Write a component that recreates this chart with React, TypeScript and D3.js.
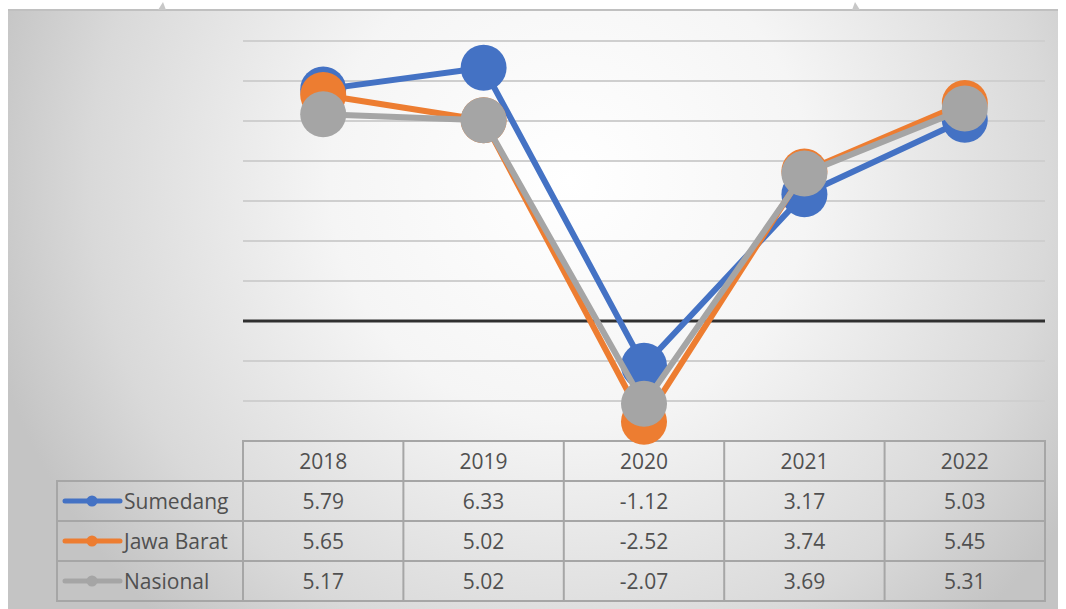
import React from "react";
import * as d3 from "d3";

const years = ["2018", "2019", "2020", "2021", "2022"];
const seriesNames = ["Sumedang", "Jawa Barat", "Nasional"];
const sumedang = [5.79, 6.33, -1.12, 3.17, 5.03];
const jawaBarat = [5.65, 5.02, -2.52, 3.74, 5.45];
const nasional = [5.17, 5.02, -2.07, 3.69, 5.31];
const seriesLabels = [
  ["5.79", "6.33", "-1.12", "3.17", "5.03"],
  ["5.65", "5.02", "-2.52", "3.74", "5.45"],
  ["5.17", "5.02", "-2.07", "3.69", "5.31"],
];
const gridValues = [-2, -1, 1, 2, 3, 4, 5, 6, 7];
const colors = ["#4472C4", "#ED7D31", "#A5A5A5"];

export default function App() {
  const W = 1066;
  const H = 609;
  const plotLeft = 243;
  const plotRight = 1045;
  const labelLeft = 57;
  const x = d3.scaleBand<string>().domain(years).range([plotLeft, plotRight]).padding(0);
  const y = d3.scaleLinear().domain([-3, 7]).range([441, 41]);
  const rowH = 40;
  const tableTop = y(-3);
  const allSeries = [sumedang, jawaBarat, nasional];
  const line = d3
    .line<number>()
    .x((_, i) => (x(years[i]) as number) + x.bandwidth() / 2)
    .y((d) => y(d));
  const font = "'Open Sans', 'Liberation Sans', sans-serif";
  const textColor = "#505050";
  const border = "#a6a6a6";
  const fs = 21;

  return (
    <svg
      width={W}
      height={H}
      style={{ position: "fixed", left: 0, top: 0, display: "block" }}
    >
      <defs>
        <radialGradient id="bg" gradientUnits="userSpaceOnUse" cx={570} cy={180} r={600} fx={570} fy={180}>
          <stop offset="0%" stopColor="#ffffff" />
          <stop offset="40%" stopColor="#f5f5f5" />
          <stop offset="80%" stopColor="#d9d9d9" />
          <stop offset="100%" stopColor="#c4c4c4" />
        </radialGradient>
      </defs>
      <rect x={0} y={0} width={W} height={H} fill="#ffffff" />
      <rect x={8} y={10} width={1050} height={H} fill="url(#bg)" />
      <line x1={8} x2={1058} y1={10} y2={10} stroke="#c0c0c0" strokeWidth={2} />
      <path d="M158,10 L163,2 L166,10 Z" fill="#c8c8c8" />
      <path d="M852,10 L855,2 L860,10 Z" fill="#c8c8c8" />

      {gridValues.map((v) => (
        <line
          key={v}
          x1={plotLeft}
          x2={plotRight}
          y1={y(v)}
          y2={y(v)}
          stroke="#cfcfcf"
          strokeWidth={2}
        />
      ))}
      <line x1={plotLeft} x2={plotRight} y1={y(0)} y2={y(0)} stroke="#303030" strokeWidth={3} />

      {/* Table */}
      <g stroke={border} strokeWidth={2} fill="none">
        <rect x={plotLeft} y={tableTop} width={plotRight - plotLeft} height={rowH * 4} />
        <rect x={labelLeft} y={tableTop + rowH} width={plotRight - labelLeft} height={rowH * 3} />
        {years.slice(1).map((yr) => (
          <line key={yr} x1={x(yr)} x2={x(yr)} y1={tableTop} y2={tableTop + rowH * 4} />
        ))}
        {[1, 2, 3].map((r) => (
          <line key={r} x1={r === 1 ? plotLeft : labelLeft} x2={plotRight} y1={tableTop + rowH * r} y2={tableTop + rowH * r} />
        ))}
      </g>
      {years.map((yr) => (
        <text
          key={yr}
          x={(x(yr) as number) + x.bandwidth() / 2}
          y={tableTop + rowH / 2}
          dy="0.36em"
          textAnchor="middle"
          fontFamily={font}
          fontSize={fs}
          fill={textColor}
        >
          {yr}
        </text>
      ))}
      {seriesNames.map((name, si) => {
        const cy = tableTop + rowH * (si + 1) + rowH / 2;
        return (
          <g key={name}>
            <line x1={65} x2={120} y1={cy} y2={cy} stroke={colors[si]} strokeWidth={5} strokeLinecap="round" />
            <circle cx={92} cy={cy} r={5.5} fill={colors[si]} />
            <text x={124} y={cy} dy="0.36em" fontFamily={font} fontSize={fs} fill={textColor}>
              {name}
            </text>
            {seriesLabels[si].map((lab, i) => (
              <text
                key={i}
                x={(x(years[i]) as number) + x.bandwidth() / 2}
                y={cy}
                dy="0.36em"
                textAnchor="middle"
                fontFamily={font}
                fontSize={fs}
                fill={textColor}
              >
                {lab}
              </text>
            ))}
          </g>
        );
      })}

      {/* Series */}
      {allSeries.map((s, si) => (
        <g key={si}>
          <path d={line(s) as string} fill="none" stroke={colors[si]} strokeWidth={6} strokeLinejoin="round" />
          {s.map((v, i) => (
            <circle
              key={i}
              cx={(x(years[i]) as number) + x.bandwidth() / 2}
              cy={y(v)}
              r={23}
              fill={colors[si]}
            />
          ))}
        </g>
      ))}
    </svg>
  );
}
